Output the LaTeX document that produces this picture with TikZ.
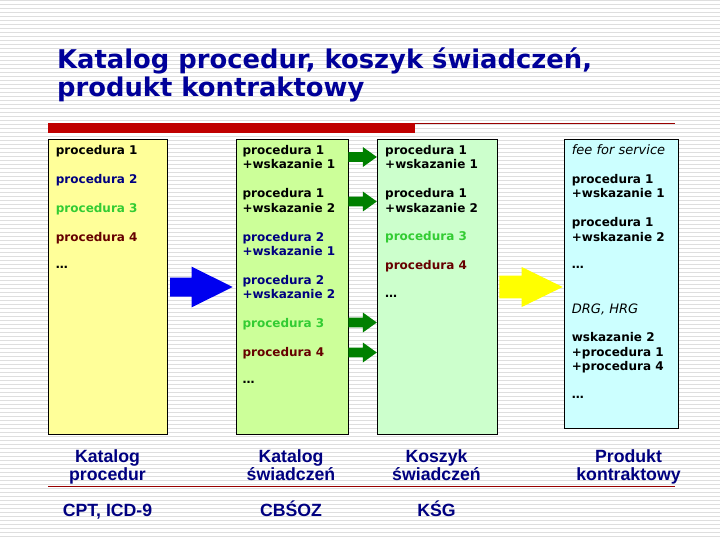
\documentclass[tikz,border=0pt]{standalone}
\usepackage{fontspec}
\setmainfont{DejaVu Sans}
\newfontfamily\lblfont{Liberation Sans}
\usetikzlibrary{calc}
\definecolor{titleblue}{RGB}{0,0,153}
\definecolor{navyc}{RGB}{0,0,128}
\definecolor{grnc}{RGB}{51,204,51}
\definecolor{brnc}{RGB}{102,0,0}
\definecolor{barred}{RGB}{192,0,0}
\definecolor{linered}{RGB}{153,0,0}
\definecolor{arrgreen}{RGB}{0,128,0}
\definecolor{arrblue}{RGB}{0,0,240}
\definecolor{arryellow}{RGB}{255,255,0}
\definecolor{fillA}{RGB}{255,255,153}
\definecolor{fillB}{RGB}{204,255,153}
\definecolor{fillC}{RGB}{204,255,204}
\definecolor{fillD}{RGB}{204,255,255}
\definecolor{stripe}{RGB}{222,222,222}
\begin{document}
\begin{tikzpicture}[x=1pt,y=-1pt,
  col/.style={draw=black, line width=0.9pt, inner sep=0pt, anchor=north west},
  itm/.style={anchor=base west, inner sep=0pt, font=\fontsize{12}{14}\selectfont\bfseries},
  itmi/.style={anchor=base west, inner sep=0pt, font=\fontsize{13}{14}\selectfont\itshape},
  lbl/.style={inner sep=0pt, anchor=base, text=navyc, font=\lblfont\fontsize{17.7}{18}\selectfont\bfseries},
  ttl/.style={anchor=base west, inner sep=0pt, text=titleblue, font=\fontsize{25.8}{28}\selectfont\bfseries},
  blockarr/.style n args={3}{to path={let \p1=(\tikztostart), \p2=(\tikztotarget) in
    (\x1,\y1-#1) -- (\x2-#3,\y1-#1) -- (\x2-#3,\y1-#2) -- (\x2,\y1) -- (\x2-#3,\y1+#2) -- (\x2-#3,\y1+#1) -- (\x1,\y1+#1) -- cycle}}
]
\useasboundingbox (0,0) rectangle (720,540);
\fill[white] (0,0) rectangle (720,540);
\foreach \k in {0,...,134} \draw[stripe, line width=1.3] (0,\k*4+0.6) -- (720,\k*4+0.6);

% title
\node[ttl] (t1) at (57,68.5) {Katalog procedur, koszyk świadczeń,};
\node[ttl] (t2) at (57,96.5) {produkt kontraktowy};

% red bar
\fill[barred] (48,123.3) rectangle (415,132.7);
\draw[linered, line width=1.2] (415,123.5) -- (675,123.5);

% columns
\node[col, fill=fillA, minimum width=119, minimum height=294.7] (b1) at (48.3,139.3) {};
\node[col, fill=fillB, minimum width=112.6, minimum height=294.7] (b2) at (235.7,139.3) {};
\node[col, fill=fillC, minimum width=119.4, minimum height=294.7] (b3) at (377.3,139.3) {};
\node[col, fill=fillD, minimum width=113.4, minimum height=289] (b4) at (564.3,139.3) {};

% column 1
\node[itm] (a1) at (55.7,154.2) {procedura 1};
\node[itm, text=navyc] (a2) at (55.7,183.5) {procedura 2};
\node[itm, text=grnc] (a3) at (55.7,212.5) {procedura 3};
\node[itm, text=brnc] (a4) at (55.7,241.2) {procedura 4};
\node[itm] (a5) at (55.7,268) {…};

% column 2
\node[itm] (c1) at (242.3,154.2) {procedura 1};
\node[itm] (c2) at (242.3,168.7) {+wskazanie 1};
\node[itm] (c3) at (242.3,197.5) {procedura 1};
\node[itm] (c4) at (242.3,212) {+wskazanie 2};
\node[itm, text=navyc] (c5) at (242.3,241) {procedura 2};
\node[itm, text=navyc] (c6) at (242.3,255.5) {+wskazanie 1};
\node[itm, text=navyc] (c7) at (242.3,284) {procedura 2};
\node[itm, text=navyc] (c8) at (242.3,298.5) {+wskazanie 2};
\node[itm, text=grnc] (c9) at (242.3,327) {procedura 3};
\node[itm, text=brnc] (c10) at (242.3,356) {procedura 4};
\node[itm] (c11) at (242.3,383.5) {…};

% column 3
\node[itm] (d1) at (385,154.2) {procedura 1};
\node[itm] (d2) at (385,168.7) {+wskazanie 1};
\node[itm] (d3) at (385,197.5) {procedura 1};
\node[itm] (d4) at (385,212) {+wskazanie 2};
\node[itm, text=grnc] (d5) at (385,240.8) {procedura 3};
\node[itm, text=brnc] (d6) at (385,269.5) {procedura 4};
\node[itm] (d7) at (385,297) {…};

% column 4
\node[itmi] (e1) at (571.7,154.2) {fee for service};
\node[itm] (e2) at (571.7,183.5) {procedura 1};
\node[itm] (e3) at (571.7,198) {+wskazanie 1};
\node[itm] (e4) at (571.7,226.8) {procedura 1};
\node[itm] (e5) at (571.7,241.3) {+wskazanie 2};
\node[itm] (e6) at (571.7,268) {…};
\node[itmi] (e7) at (571.7,313.5) {DRG, HRG};
\node[itm] (e8) at (571.7,341.8) {wskazanie 2};
\node[itm] (e9) at (571.7,356.3) {+procedura 1};
\node[itm] (e10) at (571.7,370.8) {+procedura 4};
\node[itm] (e11) at (571.7,398) {…};

% arrow end points
\coordinate (bs) at (170,287);   \coordinate (be) at (232.7,287);
\coordinate (ys) at (499.3,287); \coordinate (ye) at (562.7,287);
\coordinate (g1s) at (348.3,157); \coordinate (g1e) at (376.8,157);
\coordinate (g2s) at (348.3,201.5); \coordinate (g2e) at (376.8,201.5);
\coordinate (g3s) at (348.3,322.5); \coordinate (g3e) at (376.8,322.5);
\coordinate (g4s) at (348.3,352.5); \coordinate (g4e) at (376.8,352.5);

\path[fill=arrblue, blockarr={9.5}{20.3}{41}] (bs) to (be);
\path[fill=arryellow, blockarr={11.3}{20}{41}] (ys) to (ye);
\foreach \g in {1,2,3,4}
  \path[fill=arrgreen, blockarr={4.8}{10}{14}] (g\g s) to (g\g e);

% bottom labels
\node[lbl] (l1a) at (107.5,462.7) {Katalog};
\node[lbl] (l1b) at (107.5,480.3) {procedur};
\node[lbl] (l2a) at (291,462.7) {Katalog};
\node[lbl] (l2b) at (291,480.3) {świadczeń};
\node[lbl] (l3a) at (436.5,462.7) {Koszyk};
\node[lbl] (l3b) at (436.5,480.3) {świadczeń};
\node[lbl] (l4a) at (628.5,462.7) {Produkt};
\node[lbl] (l4b) at (628.5,480.3) {kontraktowy};
\draw[linered, line width=1] (48,486.7) -- (675,486.7);
\node[lbl] (s1) at (107.5,516) {CPT, ICD-9};
\node[lbl] (s2) at (291,516) {CBŚOZ};
\node[lbl] (s3) at (436.5,516) {KŚG};
\end{tikzpicture}
\end{document}
